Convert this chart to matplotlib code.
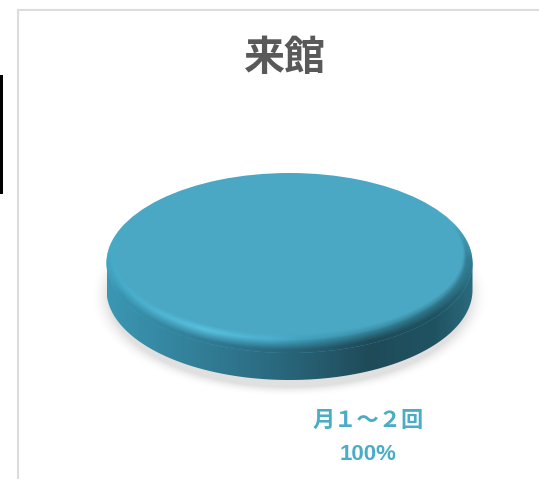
import matplotlib
matplotlib.use('Agg')
from matplotlib import pyplot as plt
from matplotlib.colors import LinearSegmentedColormap, to_rgb
from matplotlib.patches import Ellipse, Rectangle, PathPatch
from matplotlib.path import Path
from matplotlib.transforms import Affine2D
import numpy as np

title = '来館'
categories = ['月１～２回']
values = [100]
labels = ['100%']

W, H = 539, 479
FONT = ['Noto Sans CJK JP', 'DejaVu Sans']
FACE = '#4aa8c4'

# disc geometry in pixels
cx, cy, a, b = 289.5, 263, 183, 90
depth = 27
# inner flat face: the bevel only shows along the sides and the front
ia, ib, icy = 176, 81, 254

fig = plt.figure(figsize=(W / 100, H / 100), dpi=100)
ax = fig.add_axes([0, 0, 1, 1])

xx, yy = np.meshgrid(np.arange(W) + 0.5, np.arange(H) + 0.5)
extent = (0, W, H, 0)

# soft shadow under the disc
r = np.sqrt(((xx - cx) / 192) ** 2 + ((yy - (cy + depth + 6)) / 97) ** 2)
shadow = np.zeros((H, W, 4))
shadow[..., :3] = 0.6
shadow[..., 3] = 0.3 * np.clip((1.04 - r) / 0.1, 0, 1) ** 2
ax.imshow(shadow, extent=extent, zorder=1, interpolation='bilinear')

# side wall: lower half of the ellipse moved down, closed at the widest line
theta = np.linspace(0, np.pi, 200)
low_x = cx + a * np.cos(theta)
low_y = cy + depth + b * np.sin(theta)
verts = np.column_stack([np.r_[low_x, cx - a, cx + a], np.r_[low_y, cy, cy]])
side_path = Path(np.r_[verts, verts[:1]], closed=True)
side_cmap = LinearSegmentedColormap.from_list('side', [
    (0.00, '#3a97b3'), (0.20, '#34839d'), (0.45, '#2b6a80'),
    (0.72, '#1f4b59'), (0.90, '#205362'), (1.00, '#2a6a7d')])
side = ax.imshow(np.linspace(0, 1, 366)[None, :], extent=(cx - a, cx + a, cy + depth + b, cy - 5),
                 cmap=side_cmap, aspect='auto', zorder=2)
side_clip = PathPatch(side_path, transform=ax.transData, fc='none', ec='none')
ax.add_patch(side_clip)
side.set_clip_path(side_clip)

# top of the disc is the single pie slice, squashed into the ellipse
wedges, _ = ax.pie(values, colors=[FACE], radius=1, center=(0, 0), startangle=90)
for w in wedges:
    w.set_transform(Affine2D().scale(a, b).translate(cx, cy) + ax.transData)
    w.set_zorder(3)

# bevel shading laid over the rim of the slice
s = np.sqrt(((xx - cx) / ia) ** 2 + ((yy - icy) / ib) ** 2)
r2 = np.sqrt(((xx - cx) / a) ** 2 + ((yy - cy) / b) ** 2)
inner = np.clip(s - 0.985, 1e-4, None)
t = np.clip(inner / (inner + np.clip(1 - r2, 1e-4, None)), 0, 1)
along = np.clip((xx - (cx - a)) / (2 * a), 0, 1)
hi = np.array(to_rgb('#5cc8e6'))
mid = np.array(to_rgb('#42a6c4'))
lo = np.array(to_rgb('#347f95'))
light = np.clip(1 - np.abs(along - 0.27) / 0.3, 0, 1)[..., None]
dark = np.clip((along - 0.45) / 0.4, 0, 1)[..., None]
col = hi * light + mid * (1 - light)
col = col * (1 - dark) + lo * dark
edge = side_cmap(along)[..., :3]
# only the part below the widest line melts into the wall colour
below = np.clip((yy - 250) / 45, 0, 1)
mix = (np.clip((t - 0.3) / 0.55, 0, 1) * below)[..., None]
col = col * (1 - mix) + edge * mix
alpha = np.clip(t / 0.4, 0, 1) * np.clip((yy - 225) / 35, 0, 1)
bevel = np.dstack([col, alpha])
bev = ax.imshow(bevel, extent=extent, zorder=4, interpolation='bilinear')
bev_clip = Ellipse((cx, cy), 2 * a, 2 * b, transform=ax.transData, fc='none', ec='none')
ax.add_patch(bev_clip)
bev.set_clip_path(bev_clip)

# frame of the chart area and the black bar on the far left
ax.plot([18, 18, W], [H, 9.5, 9.5], color='#dcdcdc', lw=1.5, zorder=5, solid_joinstyle='miter')
ax.add_patch(Rectangle((0, 75), 3, 119, fc='black', ec='none', zorder=5))

ax.text(284, 58, title, ha='center', va='center', fontsize=29.5, fontweight='bold',
        family=FONT, color='#595959', zorder=6)
ax.text(368.5, 420, categories[0], ha='center', va='center', fontsize=16, fontweight='bold',
        family=FONT, color='#4bacc6', zorder=6)
ax.text(368.5, 455, labels[0], ha='center', va='center', fontsize=16, fontweight='bold',
        family=['Liberation Sans', 'DejaVu Sans'], color='#4bacc6', zorder=6)

ax.set_aspect('auto')
ax.set_xlim(0, W)
ax.set_ylim(H, 0)
ax.axis('off')

fig.savefig('out.png', dpi=100)
